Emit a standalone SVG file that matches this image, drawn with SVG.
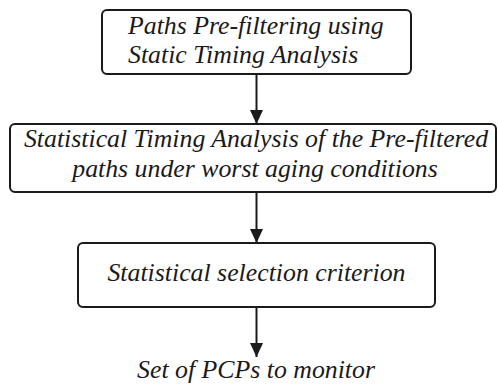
<svg xmlns="http://www.w3.org/2000/svg" width="498" height="389" viewBox="0 0 498 389">
  <style>
    .box { fill: #ffffff; stroke: #1a1a1a; stroke-width: 2; }
    .lbl { font-family: "Liberation Serif", "Times New Roman", serif; font-style: italic; font-size: 25.8px; fill: #1a1a1a; }
    .mid { text-anchor: middle; }
    .edge { stroke: #1a1a1a; stroke-width: 2; fill: none; }
  </style>
  <defs>
    <marker id="arrow" markerUnits="userSpaceOnUse" markerWidth="15" markerHeight="16" refX="14" refY="6.5" orient="auto">
      <path d="M0,0 L14,6.5 L0,13 Z" fill="#1a1a1a"/>
    </marker>
  </defs>
  <rect width="498" height="389" fill="#ffffff"/>

  <g id="connectors">
    <line class="edge" x1="256.5" y1="74" x2="256.5" y2="124" marker-end="url(#arrow)"/>
    <line class="edge" x1="256.5" y1="192" x2="256.5" y2="243" marker-end="url(#arrow)"/>
    <line class="edge" x1="256.5" y1="307" x2="256.5" y2="357" marker-end="url(#arrow)"/>
  </g>

  <g id="prefilter">
    <rect class="box" x="102" y="10" width="309" height="64" rx="5"/>
    <text class="lbl" x="128" y="34">Paths Pre-filtering using</text>
    <text class="lbl" x="128" y="63">Static Timing Analysis</text>
  </g>

  <g id="ssta">
    <rect class="box" x="10" y="124" width="486" height="68" rx="5"/>
    <text class="lbl mid" x="256" y="147">Statistical Timing Analysis of the Pre-filtered</text>
    <text class="lbl mid" x="255" y="177">paths under worst aging conditions</text>
  </g>

  <g id="selection">
    <rect class="box" x="78" y="243" width="357" height="64" rx="5"/>
    <text class="lbl mid" x="256.5" y="281">Statistical selection criterion</text>
  </g>

  <g id="output">
    <text class="lbl mid" x="256" y="378">Set of PCPs to monitor</text>
  </g>
</svg>
